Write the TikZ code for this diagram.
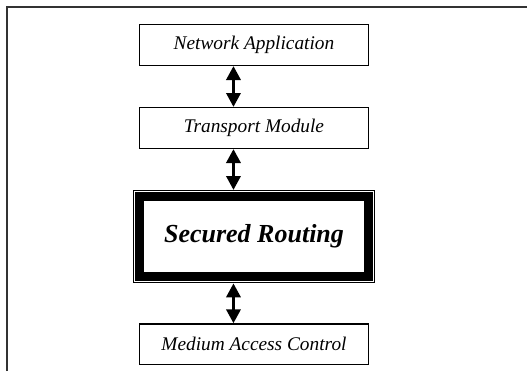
\documentclass[tikz,border=0pt]{standalone}
\usepackage{fontspec}
\setmainfont{Liberation Serif}
\usetikzlibrary{arrows.meta,positioning}

\begin{document}
\begin{tikzpicture}[x=0.75pt,y=-0.75pt]%[scale=1]
  \tikzset{layer/.style={draw,line width=1.1pt,minimum width=171.4pt,minimum height=30.4pt,inner sep=0pt,
      font=\fontsize{14.5}{16}\selectfont\itshape}}
  \tikzset{core/.style={draw,line width=6.4pt,minimum width=171.4pt,minimum height=60pt,outer sep=5pt,
      font=\fontsize{19.5}{22}\selectfont\bfseries\itshape}}
  \tikzset{rim/.style={line width=0.9pt}}
  \tikzset{link/.style={line width=2.5pt,{Triangle[width=10.5pt,length=10.5pt]}-{Triangle[width=10.5pt,length=10.5pt]}}}
  \tikzset{frame/.style={line width=1.2pt,black!80}}
  \newcommand{\updown}[2]{\draw[link] ([xshift=-15.4pt]#1.south) -- ([xshift=-15.4pt]#2.north);}
  \useasboundingbox (0,0) rectangle (527,371);
  % outer frame, cut at right and bottom
  \draw[frame] (7,371) -- (7,7) -- (527,7);
  \node[layer] (app) at (254,45) {Network Application};
  \node[layer,below=30.75pt of app] (trans) {Transport Module};
  \node[core,below=30.75pt of trans] (route) {Secured Routing};
  \node[layer,below=30pt of route] (mac) {Medium Access Control};
  \draw[rim] ([shift={(0.6,0.6)}]route.north west) rectangle ([shift={(-0.6,-0.6)}]route.south east);
  \updown{app}{trans}
  \updown{trans}{route}
  \updown{route}{mac}
\end{tikzpicture}
\end{document}
